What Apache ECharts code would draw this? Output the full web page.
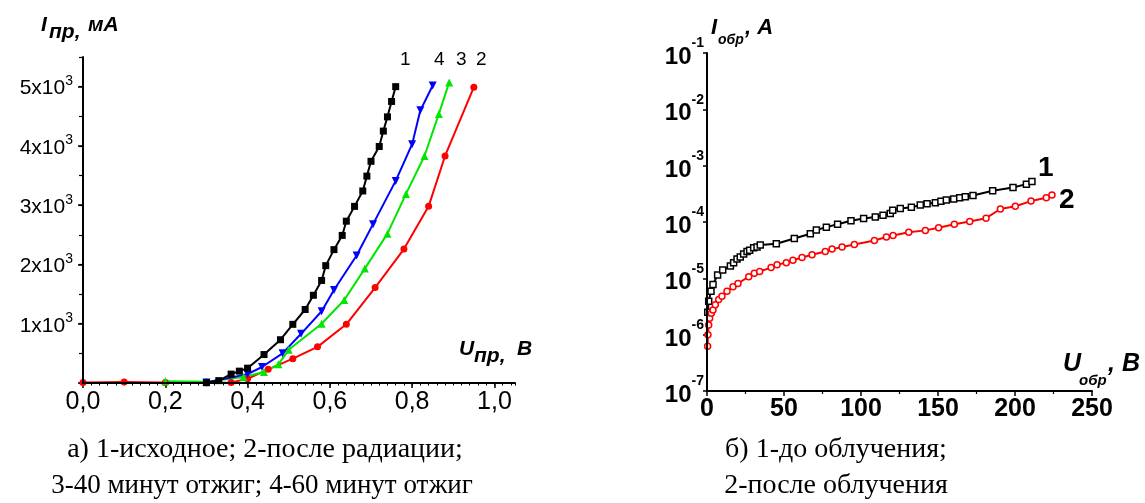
<!DOCTYPE html>
<html><head><meta charset="utf-8">
<script src="https://cdn.jsdelivr.net/npm/echarts@6/dist/echarts.min.js"></script>
<style>
html,body{margin:0;padding:0;background:#fff;}
#wrap{position:relative;width:1145px;height:503px;}
#c{width:1145px;height:503px;}
.ax{position:absolute;background:#000;pointer-events:none;z-index:5;}
</style>
</head><body><div id="wrap"><div id="c"></div></div>
<script>
// ---- Left chart: forward I-V (U, V ; I, mA) ----
const fwd1X = [0.30,0.33,0.36,0.38,0.40,0.44,0.48,0.51,0.54,0.56,0.58,0.59,0.61,0.63,0.64,0.66,0.68,0.69,0.70,0.72,0.73,0.74,0.75,0.76];
const fwd1Y = [5,40,150,200,250,480,730,990,1240,1480,1730,1980,2250,2490,2730,2980,3240,3490,3740,3990,4250,4490,4750,5000];
const fwd2X = [0,0.10,0.20,0.30,0.36,0.40,0.45,0.51,0.57,0.64,0.71,0.78,0.84,0.88,0.95];
const fwd2Y = [10,15,10,5,10,70,230,410,610,990,1610,2260,2980,3830,4990];
const fwd3X = [0.20,0.30,0.39,0.44,0.475,0.50,0.58,0.635,0.685,0.74,0.785,0.83,0.865,0.89];
const fwd3Y = [30,20,100,185,315,560,1000,1400,1930,2520,3190,3830,4540,5070];
const fwd4X = [0.30,0.40,0.435,0.485,0.53,0.58,0.61,0.665,0.705,0.76,0.80,0.82,0.85];
const fwd4Y = [10,150,270,500,830,1210,1570,2150,2680,3410,4030,4600,5020];
const fwdXTicks = [0,0.2,0.4,0.6,0.8,1.0];
const fwdYTicks = [1000,2000,3000,4000,5000];

// ---- Right chart: reverse I-V (U, V ; I, A) ----
const rev1X = [0.5,1.1,2.6,3.9,6.9,10.2,15.2,17.3,19.5,21.6,23.8,26.0,27.7,30.3,32.5,34.6,45.0,56.7,67.1,71.0,77.5,84.8,93.5,101.7,109.3,114.3,119.0,120.6,125.5,132.7,138.5,142.9,148.3,151.9,155.4,160.2,164.1,167.7,172.7,185.5,198.7,207.4,211.0];
const rev1Y = [2.5e-6,3.9e-6,5.9e-6,7.8e-6,1.15e-5,1.4e-5,1.66e-5,1.9e-5,2.2e-5,2.4e-5,2.7e-5,3.0e-5,3.16e-5,3.5e-5,3.6e-5,3.9e-5,4.1e-5,5.1e-5,6.2e-5,7.2e-5,8.1e-5,9.1e-5,1.05e-4,1.15e-4,1.23e-4,1.32e-4,1.41e-4,1.62e-4,1.74e-4,1.82e-4,2.0e-4,2.1e-4,2.2e-4,2.34e-4,2.45e-4,2.57e-4,2.7e-4,2.8e-4,2.95e-4,3.6e-4,4.1e-4,4.7e-4,5.25e-4];
const rev2X = [0.4,0.6,1.1,1.7,2.8,3.9,5.4,7.6,9.7,13.0,16.9,20.1,27.1,30.7,34.2,41.6,45.5,51.5,55.8,61.7,68.2,76.8,81.2,87.7,95.7,108.7,116.5,120.8,131.0,141.8,150.4,160.6,170.6,181.2,190.5,200.2,210.4,220.3,224.0];
const rev2Y = [6.2e-7,1.0e-6,1.48e-6,1.95e-6,2.4e-6,2.75e-6,3.4e-6,4.2e-6,4.8e-6,5.9e-6,7.1e-6,8.1e-6,1.07e-5,1.23e-5,1.32e-5,1.55e-5,1.74e-5,1.9e-5,2.1e-5,2.35e-5,2.63e-5,3.0e-5,3.3e-5,3.6e-5,4.0e-5,4.7e-5,5.4e-5,5.75e-5,6.6e-5,7.1e-5,7.9e-5,9.1e-5,1.02e-4,1.17e-4,1.7e-4,1.9e-4,2.35e-4,2.7e-4,3.0e-4];
const revXTicks = [0,50,100,150,200,250];

const pairs = (xs, ys) => xs.map((x, i) => [x, ys[i]]);
const SANS = "'Liberation Sans', Arial, sans-serif";
const SERIF = "'Liberation Serif', 'Times New Roman', serif";

// plot-area layout (pixels)
const GL = {left: 83, top: 57, width: 432, height: 326};
const GR = {left: 707, top: 53, width: 385, height: 338};

// axis lines as an overlay on the plot-area edges
const wrap = document.getElementById('wrap');
function addBar(x, y, w, h) {
  const d = document.createElement('div');
  d.className = 'ax';
  d.style.left = x + 'px'; d.style.top = y + 'px'; d.style.width = w + 'px'; d.style.height = h + 'px';
  wrap.appendChild(d);
}
[GL, GR].forEach(g => {
  addBar(g.left - 1, g.top, 2, g.height + 1);
  addBar(g.left - 1, g.top + g.height - 1, g.width + 1, 2);
});

const chart = echarts.init(document.getElementById('c'), null, {renderer: 'canvas'});

const mkLine = () => ({show: true, onZero: false, lineStyle: {color: '#000', width: 2}});
const noLine = () => ({show: false, onZero: false});

function lineSeries(name, xi, yi, data, color, symbol, size, rotate, fill) {
  return {
    name, type: 'line', xAxisIndex: xi, yAxisIndex: yi, data,
    symbol, symbolSize: size, symbolRotate: rotate || 0, showSymbol: true,
    lineStyle: {color, width: 2},
    itemStyle: fill ? {color: fill, borderColor: color, borderWidth: 1.5} : {color},
    emphasis: {disabled: true}, animation: false
  };
}

const axisFrame = (g) => [
  {type: 'line', shape: {x1: g.left - 1, y1: g.top + g.height, x2: g.left + g.width, y2: g.top + g.height}, style: {stroke: '#000', lineWidth: 2}},
  {type: 'line', shape: {x1: g.left, y1: g.top + g.height + 1, x2: g.left, y2: g.top}, style: {stroke: '#000', lineWidth: 2}}
];

const texts = [
  {type: 'text', left: 41, top: 15, style: {text: 'I', font: "italic bold 21px " + SANS, fill: '#000'}},
  {type: 'text', left: 49, top: 22, style: {text: 'пр,', font: "italic bold 21px " + SANS, fill: '#000'}},
  {type: 'text', left: 88, top: 15, style: {text: 'мА', font: "italic bold 21px " + SANS, fill: '#000'}},
  {type: 'text', left: 459, top: 339, style: {text: 'U', font: "italic bold 21px " + SANS, fill: '#000'}},
  {type: 'text', left: 474, top: 346, style: {text: 'пр,', font: "italic bold 21px " + SANS, fill: '#000'}},
  {type: 'text', left: 517, top: 339, style: {text: 'В', font: "italic bold 21px " + SANS, fill: '#000'}},
  {type: 'text', left: 400, top: 50, style: {text: '1', font: "19px " + SANS, fill: '#000'}},
  {type: 'text', left: 434, top: 50, style: {text: '4', font: "19px " + SANS, fill: '#000'}},
  {type: 'text', left: 456, top: 50, style: {text: '3', font: "19px " + SANS, fill: '#000'}},
  {type: 'text', left: 476, top: 50, style: {text: '2', font: "19px " + SANS, fill: '#000'}},
  {type: 'text', left: 711, top: 17, style: {text: 'I', font: "italic bold 22px " + SANS, fill: '#000'}},
  {type: 'text', left: 718, top: 33, style: {text: 'обр', font: "italic bold 14px " + SANS, fill: '#000'}},
  {type: 'text', left: 745, top: 17, style: {text: ', А', font: "italic bold 22px " + SANS, fill: '#000'}},
  {type: 'text', left: 1063, top: 352, style: {text: 'U', font: "italic bold 25px " + SANS, fill: '#000'}},
  {type: 'text', left: 1079, top: 373, style: {text: 'обр', font: "italic bold 15px " + SANS, fill: '#000'}},
  {type: 'text', left: 1108, top: 352, style: {text: ', В', font: "italic bold 25px " + SANS, fill: '#000'}},
  {type: 'text', left: 1038, top: 154, style: {text: '1', font: "bold 28px " + SANS, fill: '#000'}},
  {type: 'text', left: 1059, top: 186, style: {text: '2', font: "bold 28px " + SANS, fill: '#000'}},
  {type: 'text', x: 265, y: 450, style: {text: 'а) 1-исходное; 2-после радиации;', font: "28px " + SERIF, fill: '#000', align: 'center', verticalAlign: 'middle'}},
  {type: 'text', x: 262, y: 486, style: {text: '3-40 минут отжиг; 4-60 минут отжиг', font: "27px " + SERIF, fill: '#000', align: 'center', verticalAlign: 'middle'}},
  {type: 'text', x: 836, y: 450, style: {text: 'б) 1-до облучения;', font: "28px " + SERIF, fill: '#000', align: 'center', verticalAlign: 'middle'}},
  {type: 'text', x: 836, y: 486, style: {text: '2-после облучения', font: "28px " + SERIF, fill: '#000', align: 'center', verticalAlign: 'middle'}}
];

const option = {
  animation: false,
  grid: [Object.assign({}, GL), Object.assign({}, GR)],
  xAxis: [
    { gridIndex: 0, type: 'value', position: 'bottom', min: 0, max: 1.05, interval: 0.2,
      axisLine: mkLine(), splitLine: {show: false},
      axisTick: {show: true, length: 5, lineStyle: {color: '#000', width: 1.5}},
      axisLabel: {show: true, showMaxLabel: false, color: '#000', fontFamily: SANS, fontSize: 25, margin: 7,
                  formatter: v => fwdXTicks.some(t => Math.abs(t - v) < 1e-9) ? v.toFixed(1).replace('.', ',') : ''}
    },
    { gridIndex: 0, type: 'value', position: 'bottom', min: 0, max: 1.05, interval: 0.02,
      axisLine: noLine(), splitLine: {show: false}, axisLabel: {show: false},
      axisTick: {show: true, length: 2.5, lineStyle: {color: '#000', width: 1}}
    },
    { gridIndex: 1, type: 'value', position: 'bottom', min: 0, max: 250, interval: 50,
      axisLine: mkLine(), splitLine: {show: false},
      axisTick: {show: true, length: 5, lineStyle: {color: '#000', width: 1.5}},
      minorTick: {show: true, splitNumber: 2, length: 3, lineStyle: {color: '#000', width: 1.2}},
      axisLabel: {show: true, color: '#000', fontFamily: SANS, fontWeight: 'bold', fontSize: 25, margin: 6,
                  formatter: v => revXTicks.indexOf(v) >= 0 ? String(v) : ''}
    }
  ],
  yAxis: [
    { gridIndex: 0, type: 'value', position: 'left', min: 0, max: 5500, interval: 1000,
      axisLine: mkLine(), splitLine: {show: false},
      axisTick: {show: true, length: 5, lineStyle: {color: '#000', width: 1.5}},
      axisLabel: {show: true, showMaxLabel: false, margin: 10, color: '#000',
                  formatter: v => fwdYTicks.indexOf(v) >= 0 ? '{b|' + (v / 1000) + 'x10}{s|3}' : '',
                  rich: {
                    b: {fontFamily: SANS, fontSize: 21, color: '#000', padding: [4, 0, 0, 0]},
                    s: {fontFamily: SANS, fontSize: 14, color: '#000', verticalAlign: 'top'}
                  }}
    },
    { gridIndex: 0, type: 'value', position: 'left', min: 0, max: 5500, interval: 500,
      axisLine: noLine(), splitLine: {show: false}, axisLabel: {show: false},
      axisTick: {show: true, length: 4, lineStyle: {color: '#000', width: 1.2}}
    },
    { gridIndex: 1, type: 'log', position: 'left', logBase: 10, min: 1e-7, max: 1e-1,
      axisLine: mkLine(), splitLine: {show: false},
      axisTick: {show: true, length: 4, lineStyle: {color: '#000', width: 1.5}},
      axisLabel: {show: true, margin: 3, color: '#000',
                  formatter: v => '{b|10}{s|' + Math.round(Math.log10(v)) + '}',
                  rich: {
                    b: {fontFamily: SANS, fontWeight: 'bold', fontSize: 24, color: '#000', padding: [9, 0, 0, 0]},
                    s: {fontFamily: SANS, fontWeight: 'bold', fontSize: 14, color: '#000', verticalAlign: 'top'}
                  }}
    }
  ],
  series: [
    lineSeries('2', 0, 0, pairs(fwd2X, fwd2Y), '#ff0000', 'circle', 7),
    lineSeries('3', 0, 0, pairs(fwd3X, fwd3Y), '#00e600', 'triangle', 8),
    lineSeries('4', 0, 0, pairs(fwd4X, fwd4Y), '#0000ff', 'triangle', 8, 180),
    lineSeries('1', 0, 0, pairs(fwd1X, fwd1Y), '#000000', 'rect', 7),
    lineSeries('rev1', 2, 2, pairs(rev1X, rev1Y), '#000000', 'rect', 6, 0, '#ffffff'),
    lineSeries('rev2', 2, 2, pairs(rev2X, rev2Y), '#ff0000', 'circle', 6, 0, '#ffffff')
  ],
  graphic: axisFrame(GL).concat(axisFrame(GR), texts)
};
chart.setOption(option);
</script>
</body></html>
